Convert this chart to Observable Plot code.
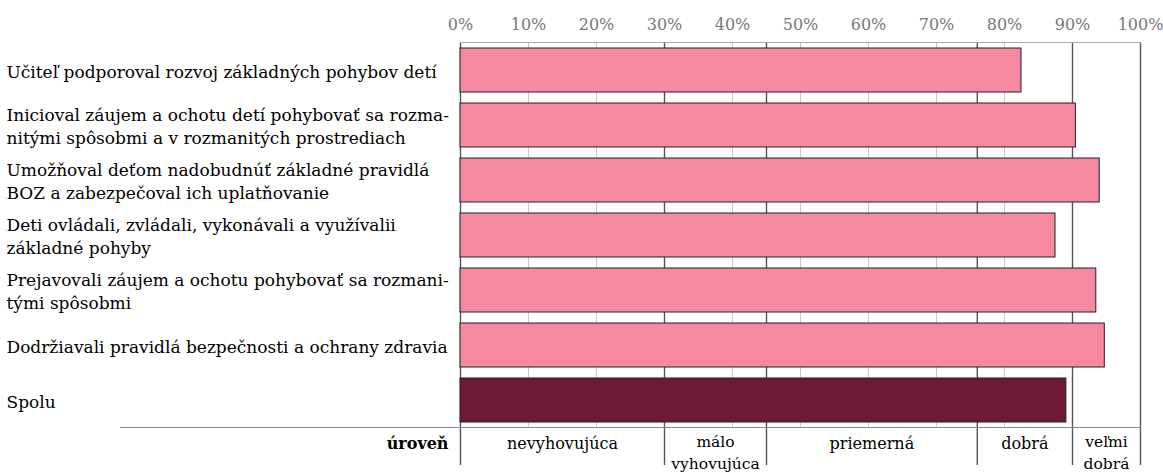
<!DOCTYPE html>
<html>
<head>
<meta charset="utf-8">
<script src="https://cdn.jsdelivr.net/npm/d3@7"></script>
<script src="https://cdn.jsdelivr.net/npm/@observablehq/plot@0.6"></script>
<style>
  html, body { margin: 0; padding: 0; background: #fff; }
</style>
</head>
<body>
<div id="chart"></div>
<script>
const categories = [
  "Učiteľ podporoval rozvoj základných pohybov detí",
  "Inicioval záujem a ochotu detí pohybovať sa rozma-\nnitými spôsobmi a v rozmanitých prostrediach",
  "Umožňoval deťom nadobudnúť základné pravidlá\nBOZ a zabezpečoval ich uplatňovanie",
  "Deti ovládali, zvládali, vykonávali a využívalii\nzákladné pohyby",
  "Prejavovali záujem a ochotu pohybovať sa rozmani-\ntými spôsobmi",
  "Dodržiavali pravidlá bezpečnosti a ochrany zdravia",
  "Spolu"
];
const values = [82.5, 90.5, 94.0, 87.5, 93.5, 94.75, 89.1];
const totalLabel = "Spolu";
const xTicks = [0, 10, 20, 30, 40, 50, 60, 70, 80, 90, 100];
const levelNames = ["nevyhovujúca", "málo\nvyhovujúca", "priemerná", "dobrá", "veľmi\ndobrá"];
const levelBounds = [0, 30, 45, 76, 90, 100];
const levelTitle = "úroveň";

const data = categories.map((c, i) => ({label: c, value: values[i]}));
const levels = levelNames.map((n, i) => ({name: n, mid: (levelBounds[i] + levelBounds[i + 1]) / 2}));

const pink = "#f4899f";
const dark = "#6e1a35";
const serif = "DejaVu Serif";

const chart = Plot.plot({
  width: 1163,
  height: 473,
  marginLeft: 460,
  marginRight: 23,
  marginTop: 42,
  marginBottom: 46,
  x: {domain: [0, 100]},
  y: {domain: categories, paddingInner: 0.2, paddingOuter: 0.1},
  style: {fontFamily: serif, fontSize: "15px", background: "white", color: "black"},
  marks: [
    Plot.ruleX(xTicks.filter(t => !levelBounds.includes(t)), {stroke: "#c8c8c8", strokeWidth: 1}),
    Plot.ruleX(levelBounds, {stroke: "#555", strokeWidth: 1.4, insetBottom: -38}),
    Plot.frame({anchor: "top", stroke: "#aaa"}),
    Plot.frame({anchor: "bottom", stroke: "#888", insetLeft: -340}),
    Plot.barX(data.filter(d => d.label !== totalLabel), {x: "value", y: "label", fill: pink, stroke: "#222", strokeWidth: 1}),
    Plot.barX(data.filter(d => d.label === totalLabel), {x: "value", y: "label", fill: dark, stroke: "#222", strokeWidth: 1}),
    Plot.axisX({anchor: "top", ticks: xTicks, tickFormat: d => d + "%", tickSize: 0, tickPadding: 13, color: "#777", fontSize: 16, fontFamily: serif, label: null}),
    Plot.axisY({tickSize: 0, textAnchor: "start", dx: -445, color: "black", fontSize: 17, fontFamily: serif, lineHeight: 1.35, label: null}),
    Plot.text([{x: 0, t: levelTitle}], {x: "x", text: "t", frameAnchor: "bottom", dy: 21, dx: -12, textAnchor: "end", fontWeight: "bold", fontSize: 16, fontFamily: serif}),
    Plot.text(levels.filter(d => !d.name.includes("\n")), {x: "mid", text: "name", frameAnchor: "bottom", dy: 21, fontSize: 16, fontFamily: serif}),
    Plot.text(levels.filter(d => d.name.includes("\n")), {x: "mid", text: "name", frameAnchor: "bottom", dy: 4, lineAnchor: "top", lineHeight: 1.4, fontSize: 15.5, fontFamily: serif})
  ]
});
document.getElementById("chart").appendChild(chart);
</script>
</body>
</html>
